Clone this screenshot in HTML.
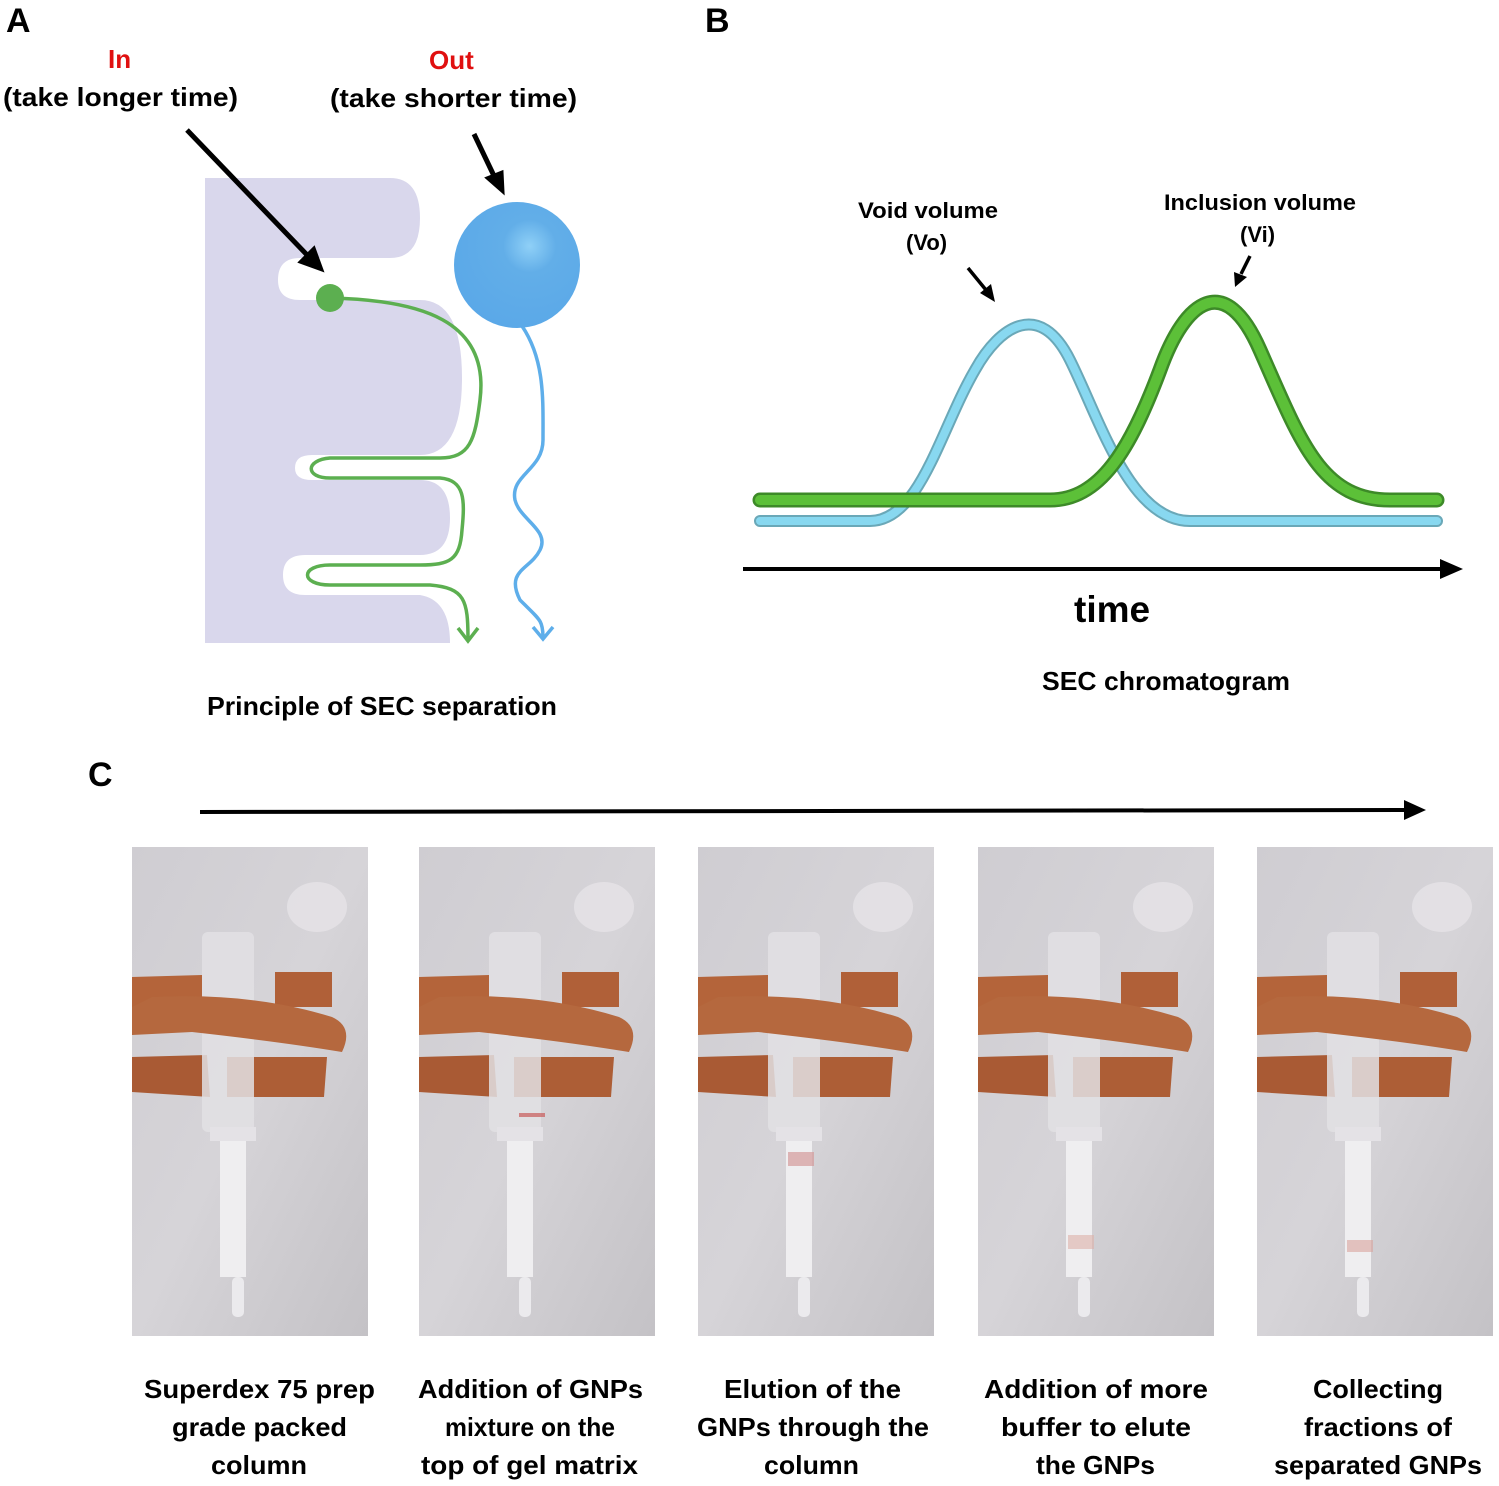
<!DOCTYPE html>
<html><head><meta charset="utf-8"><style>
html,body{margin:0;padding:0;background:#fff}
svg{display:block}
text{font-family:"Liberation Sans",sans-serif}
</style></head><body>
<svg width="1499" height="1486" viewBox="0 0 1499 1486" xmlns="http://www.w3.org/2000/svg">
<defs>
<radialGradient id="ball" cx="0.6" cy="0.35" r="0.7"><stop offset="0" stop-color="#8fd0f7"/><stop offset="0.3" stop-color="#62aee8"/><stop offset="1" stop-color="#5aa8e8"/></radialGradient>
<linearGradient id="bg" x1="0" y1="0" x2="1" y2="1"><stop offset="0" stop-color="#cfcdd2"/><stop offset="0.5" stop-color="#d6d4d8"/><stop offset="1" stop-color="#c4c2c6"/></linearGradient>
<g id="photo">
<rect x="0" y="0" width="236" height="489" fill="url(#bg)"/>
<ellipse cx="185" cy="60" rx="30" ry="25" fill="#e8e6ea" opacity="0.7"/>
<path d="M0,130 L70,128 L70,160 L0,165Z" fill="#b4643a"/>
<path d="M143,125 L200,125 L200,160 L143,160Z" fill="#b06038"/>
<path d="M0,210 L75,208 L78,250 L0,245Z" fill="#a95a34"/>
<path d="M95,210 L195,210 L192,250 L95,250Z" fill="#ad5e36"/>
<rect x="70" y="85" width="52" height="200" rx="6" fill="#e2e0e4" opacity="0.85"/>
<path d="M0,160 L20,150 Q120,145 200,170 Q222,180 210,205 Q150,195 60,185 L0,188Z" fill="#b5683e"/>
<rect x="88" y="290" width="26" height="140" fill="#efeef0"/>
<rect x="78" y="280" width="46" height="14" fill="#e4e2e6"/>
<rect x="100" y="430" width="12" height="40" rx="5" fill="#ebeaed"/>
</g>
</defs>

<text x="6" y="32" font-size="34" font-weight="bold">A</text>
<text x="108" y="68" font-size="26" font-weight="bold" fill="#e01010">In</text>
<text x="3" y="106" font-size="26" font-weight="bold" textLength="235" lengthAdjust="spacingAndGlyphs">(take longer time)</text>
<text x="429" y="69" font-size="26" font-weight="bold" fill="#e01010">Out</text>
<text x="330" y="107" font-size="26" font-weight="bold" textLength="247" lengthAdjust="spacingAndGlyphs">(take shorter time)</text>

<path d="M205,178 L390,178 Q420,178 420,218 Q420,258 390,258 L300,258 Q278,258 278,280 Q278,300 300,300 L420,300 Q462,300 462,378 Q462,455 420,455 L312,455 Q295,455 295,468 Q295,480 312,480 L420,480 Q450,480 450,518 Q450,555 420,555 L305,555 Q283,555 283,575 Q283,595 305,595 L420,595 Q450,600 450,643 L205,643 Z" fill="#d9d7ec"/>

<line x1="187" y1="130" x2="310" y2="258" stroke="#000" stroke-width="5"/>
<path d="M322,270 L300,262 L314,248Z" fill="#000" stroke="#000" stroke-width="3"/>
<line x1="474" y1="134" x2="495" y2="178" stroke="#000" stroke-width="5"/>
<path d="M503,192 L487,178 L502,172Z" fill="#000" stroke="#000" stroke-width="3"/>

<path d="M330,298 C420,300 490,320 480,400 C475,440 470,458 440,458 L330,458 C305,460 305,478 330,478 L440,478 C465,480 465,500 462,530 C460,560 450,565 420,565 L330,565 C300,565 300,585 330,585 L430,585 C465,588 468,600 468,640" fill="none" stroke="#5caf50" stroke-width="3.5"/>
<path d="M458,628 L468,641 L478,628" fill="none" stroke="#5caf50" stroke-width="3.5"/>
<circle cx="330" cy="298" r="14" fill="#5caf50"/>

<path d="M522,326 C545,360 543,400 543,440 C543,470 510,475 515,500 C520,520 550,530 540,550 C530,570 505,570 520,600 C540,620 543,620 543,638" fill="none" stroke="#5eaeea" stroke-width="3.5"/>
<path d="M533,627 L543,639 L553,627" fill="none" stroke="#5eaeea" stroke-width="3.5"/>
<circle cx="517" cy="265" r="63" fill="url(#ball)"/>

<text x="207" y="715" font-size="26" font-weight="bold" textLength="350" lengthAdjust="spacingAndGlyphs">Principle of SEC separation</text>

<text x="705" y="32" font-size="34" font-weight="bold">B</text>
<text x="858" y="218" font-size="22" font-weight="bold" textLength="140" lengthAdjust="spacingAndGlyphs">Void volume</text>
<text x="906" y="250" font-size="22" font-weight="bold">(Vo)</text>
<text x="1164" y="210" font-size="22" font-weight="bold" textLength="192" lengthAdjust="spacingAndGlyphs">Inclusion volume</text>
<text x="1240" y="242" font-size="22" font-weight="bold">(Vi)</text>
<line x1="968" y1="268" x2="986" y2="290" stroke="#000" stroke-width="3.5"/>
<path d="M995,302 L980,293 L991,284Z" fill="#000"/>
<line x1="1250" y1="256" x2="1241" y2="274" stroke="#000" stroke-width="3.5"/>
<path d="M1235,287 L1234,272 L1247,277Z" fill="#000"/>

<path d="M760,521 L870,521 C920,521 940,430 975,370 C1000,325 1040,300 1070,360 C1100,420 1130,521 1190,521 L1437,521" fill="none" stroke="#6aa8b8" stroke-width="12" stroke-linecap="round"/>
<path d="M760,521 L870,521 C920,521 940,430 975,370 C1000,325 1040,300 1070,360 C1100,420 1130,521 1190,521 L1437,521" fill="none" stroke="#88d8f0" stroke-width="8" stroke-linecap="round"/>
<path d="M760,500 L1050,500 C1100,500 1130,450 1160,370 C1185,300 1225,270 1260,350 C1300,440 1320,500 1390,500 L1437,500" fill="none" stroke="#3d8a28" stroke-width="15" stroke-linecap="round"/>
<path d="M760,500 L1050,500 C1100,500 1130,450 1160,370 C1185,300 1225,270 1260,350 C1300,440 1320,500 1390,500 L1437,500" fill="none" stroke="#5cc038" stroke-width="10" stroke-linecap="round"/>

<line x1="743" y1="569" x2="1445" y2="569" stroke="#000" stroke-width="4"/>
<path d="M1463,569 L1440,559 L1440,579Z" fill="#000"/>
<text x="1074" y="622" font-size="37" font-weight="bold">time</text>
<text x="1042" y="690" font-size="26" font-weight="bold" textLength="248" lengthAdjust="spacingAndGlyphs">SEC chromatogram</text>

<text x="88" y="786" font-size="34" font-weight="bold">C</text>
<line x1="200" y1="812" x2="1408" y2="810" stroke="#000" stroke-width="4"/>
<path d="M1426,810 L1404,800 L1404,820Z" fill="#000"/>

<use href="#photo" x="132" y="847"/>
<use href="#photo" x="419" y="847"/>
<use href="#photo" x="698" y="847"/>
<use href="#photo" x="978" y="847"/>
<use href="#photo" x="1257" y="847"/>
<rect x="519" y="1113" width="26" height="4" fill="#c85a5a" opacity="0.7"/>
<rect x="788" y="1152" width="26" height="14" fill="#d49a9a" opacity="0.7"/>
<rect x="1068" y="1235" width="26" height="14" fill="#dcb0a8" opacity="0.6"/>
<rect x="1347" y="1240" width="26" height="12" fill="#d8a49c" opacity="0.6"/>

<g font-size="26" font-weight="bold" lengthAdjust="spacingAndGlyphs">
<text x="144" y="1398" textLength="231" lengthAdjust="spacingAndGlyphs">Superdex 75 prep</text>
<text x="172" y="1436" textLength="175" lengthAdjust="spacingAndGlyphs">grade packed</text>
<text x="211" y="1474" textLength="96" lengthAdjust="spacingAndGlyphs">column</text>
<text x="418" y="1398" textLength="225" lengthAdjust="spacingAndGlyphs">Addition of GNPs</text>
<text x="445" y="1436" textLength="170" lengthAdjust="spacingAndGlyphs">mixture on the</text>
<text x="421" y="1474" textLength="217" lengthAdjust="spacingAndGlyphs">top of gel matrix</text>
<text x="724" y="1398" textLength="177" lengthAdjust="spacingAndGlyphs">Elution of the</text>
<text x="697" y="1436" textLength="232" lengthAdjust="spacingAndGlyphs">GNPs through the</text>
<text x="764" y="1474" textLength="95" lengthAdjust="spacingAndGlyphs">column</text>
<text x="984" y="1398" textLength="224" lengthAdjust="spacingAndGlyphs">Addition of more</text>
<text x="1001" y="1436" textLength="190" lengthAdjust="spacingAndGlyphs">buffer to elute</text>
<text x="1036" y="1474" textLength="119" lengthAdjust="spacingAndGlyphs">the GNPs</text>
<text x="1313" y="1398" textLength="130" lengthAdjust="spacingAndGlyphs">Collecting</text>
<text x="1304" y="1436" textLength="148" lengthAdjust="spacingAndGlyphs">fractions of</text>
<text x="1274" y="1474" textLength="208" lengthAdjust="spacingAndGlyphs">separated GNPs</text>
</g>
</svg>
</body></html>
